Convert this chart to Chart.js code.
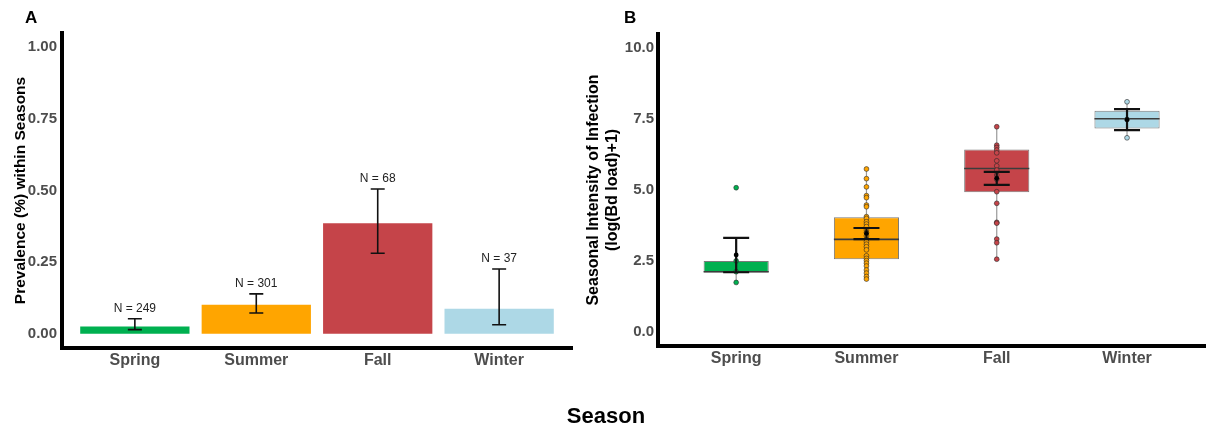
<!DOCTYPE html>
<html>
<head>
<meta charset="utf-8">
<title>Seasonal Bd prevalence and intensity</title>
<script src="https://cdn.jsdelivr.net/npm/chart.js@4.4.1/dist/chart.umd.min.js"></script>
<style>
  html, body { margin: 0; padding: 0; background: #fff; }
  #wrap { position: relative; width: 1210px; height: 427px; overflow: hidden; font-family: "Liberation Sans", Arial, sans-serif; }
  #chartA { position: absolute; left: 0; top: 0; }
  #chartB { position: absolute; left: 578px; top: 0; }
  .tag { position: absolute; top: 9px; font-weight: bold; font-size: 17px; line-height: 17px; color: #000; }
  #xTitle { position: absolute; left: 0; width: 1212px; top: 403px; text-align: center; font-weight: bold; font-size: 22px; line-height: 25px; color: #000; }
</style>
</head>
<body>
<div id="wrap">
  <canvas id="chartA" width="578" height="427"></canvas>
  <canvas id="chartB" width="632" height="427"></canvas>
  <div class="tag" style="left:25px">A</div>
  <div class="tag" style="left:624px">B</div>
  <div id="xTitle">Season</div>
</div>
<script>
// categories
const seasons = ['Spring', 'Summer', 'Fall', 'Winter'];
const seasonColors = ['#00B050', '#FFA500', '#C54449', '#ADD8E6'];

// panel A: prevalence with error bars
const prevalence = [0.025, 0.101, 0.386, 0.087];
const prevLow = [0.014, 0.072, 0.281, 0.031];
const prevHigh = [0.052, 0.139, 0.505, 0.226];
const sampleN = [249, 301, 68, 37];
const prevTicks = [0, 0.25, 0.5, 0.75, 1];

// panel B: infection intensity, box summaries
const whiskerLow = [1.74, 1.86, 2.56, 6.84];
const boxQ1 = [2.09, 2.56, 4.92, 7.17];
const boxMedian = [2.12, 3.26, 5.76, 7.51];
const boxQ3 = [2.50, 4.04, 6.43, 7.79];
const whiskerHigh = [2.50, 5.74, 7.23, 8.11];
const meanLoad = [2.71, 3.47, 5.41, 7.48];
const seLow = [2.10, 3.27, 5.18, 7.11];
const seHigh = [3.31, 3.66, 5.64, 7.85];
const loadTicks = [0, 2.5, 5, 7.5, 10];

// individual loads per season
const springLoads = [5.08, 2.50, 2.12, 1.74];
const summerLoads = [5.74, 5.40, 5.11, 4.80, 4.73, 4.47, 4.41, 4.06, 4.00, 3.88, 3.80, 3.71, 3.59, 3.50,
  3.38, 3.26, 3.18, 3.09, 3.00, 2.89, 2.68, 2.59, 2.51, 2.42, 2.32, 2.18, 2.07, 1.95, 1.86];
const fallLoads = [7.23, 6.58, 6.50, 6.41, 6.31, 6.03, 5.85, 5.70, 5.53, 5.38, 4.94, 4.53, 3.86, 3.83,
  3.27, 3.14, 2.56];
const winterLoads = [8.11, 7.49, 6.84];

Chart.defaults.font.family = '"Liberation Sans", Arial, sans-serif';
Chart.defaults.animation = false;

const tickFont = { size: 15, weight: 'bold' };
const tickColor = '#4d4d4d';

//#region Panel A - prevalence
const errorBarsA = {
    id: 'errorBarsA',
    afterDatasetsDraw(chart) {
        const { ctx, scales: { x, y } } = chart;
        ctx.save();
        seasons.forEach((s, i) => {
            const px = x.getPixelForValue(i + 1);
            const top = y.getPixelForValue(prevHigh[i]);
            const bot = y.getPixelForValue(prevLow[i]);
            ctx.strokeStyle = '#111';
            ctx.lineWidth = 1.6;
            ctx.beginPath();
            ctx.moveTo(px, top); ctx.lineTo(px, bot);
            ctx.moveTo(px - 7, top); ctx.lineTo(px + 7, top);
            ctx.moveTo(px - 7, bot); ctx.lineTo(px + 7, bot);
            ctx.stroke();
            ctx.fillStyle = '#222';
            ctx.font = '12px "Liberation Sans", Arial, sans-serif';
            ctx.textAlign = 'center';
            ctx.textBaseline = 'middle';
            ctx.fillText('N = ' + sampleN[i], px, top - 10);
        });
        ctx.restore();
    }
};

new Chart(document.getElementById('chartA').getContext('2d'), {
    type: 'bar',
    data: {
        datasets: [{
            data: seasons.map((s, i) => ({ x: i + 1, y: prevalence[i] })),
            backgroundColor: seasonColors,
            barPercentage: 0.9,
            categoryPercentage: 1.0
        }]
    },
    options: {
        responsive: false,
        devicePixelRatio: 1,
        layout: { padding: { top: 33, right: 6, left: 0, bottom: 0 } },
        plugins: { legend: { display: false }, tooltip: { enabled: false } },
        scales: {
            x: {
                type: 'linear', min: 0.4, max: 4.6, offset: false, bounds: 'data',
                afterBuildTicks: sc => { sc.ticks = seasons.map((s, i) => ({ value: i + 1 })); },
                afterFit: sc => { sc.height = 79; },
                ticks: { callback: v => seasons[v - 1], font: { size: 16, weight: 'bold' }, color: tickColor, padding: 3, autoSkip: false, maxRotation: 0 },
                grid: { display: false, drawTicks: false },
                border: { color: '#000', width: 4 }
            },
            y: {
                min: -0.05, max: 1.05, bounds: 'data',
                afterBuildTicks: sc => { sc.ticks = prevTicks.map(v => ({ value: v })); },
                afterFit: sc => { sc.width = 62; },
                ticks: { callback: v => v.toFixed(2), font: tickFont, color: tickColor, padding: 5 },
                grid: { display: false, drawTicks: false },
                border: { color: '#000', width: 4 },
                title: { display: true, text: 'Prevalence (%) within Seasons', color: '#000', font: { size: 15.5, weight: 'bold' }, padding: { top: 11, bottom: 0 } }
            }
        }
    },
    plugins: [errorBarsA]
});
//#endregion

//#region Panel B - intensity box plots
const allLoads = [springLoads, summerLoads, fallLoads, winterLoads];
const pointData = [];
allLoads.forEach((list, i) => list.forEach(v => pointData.push({ x: i + 1, y: v })));

const boxExtras = {
    id: 'boxExtras',
    afterDatasetDraw(chart, args) {
        if (args.index !== 1) return; // whiskers + median right after the boxes
        const { ctx, scales: { x, y } } = chart;
        const boxes = chart.getDatasetMeta(1).data;
        ctx.save();
        seasons.forEach((s, i) => {
            const px = x.getPixelForValue(i + 1);
            ctx.strokeStyle = '#9a9a9a';
            ctx.lineWidth = 1.2;
            ctx.beginPath();
            ctx.moveTo(px, y.getPixelForValue(whiskerLow[i])); ctx.lineTo(px, y.getPixelForValue(boxQ1[i]));
            ctx.moveTo(px, y.getPixelForValue(boxQ3[i])); ctx.lineTo(px, y.getPixelForValue(whiskerHigh[i]));
            ctx.stroke();
            const half = boxes[i].width / 2;
            const my = y.getPixelForValue(boxMedian[i]);
            ctx.strokeStyle = '#3c3c3c';
            ctx.lineWidth = 1.6;
            ctx.beginPath();
            ctx.moveTo(px - half, my); ctx.lineTo(px + half, my);
            ctx.stroke();
        });
        ctx.restore();
    },
    afterDatasetsDraw(chart) {
        const { ctx, scales: { x, y } } = chart;
        ctx.save();
        seasons.forEach((s, i) => {
            const px = x.getPixelForValue(i + 1);
            const top = y.getPixelForValue(seHigh[i]);
            const bot = y.getPixelForValue(seLow[i]);
            ctx.strokeStyle = '#111';
            ctx.lineWidth = 2.2;
            ctx.beginPath();
            ctx.moveTo(px, top); ctx.lineTo(px, bot);
            ctx.moveTo(px - 13, top); ctx.lineTo(px + 13, top);
            ctx.moveTo(px - 13, bot); ctx.lineTo(px + 13, bot);
            ctx.stroke();
            ctx.fillStyle = '#000';
            ctx.beginPath();
            ctx.arc(px, y.getPixelForValue(meanLoad[i]), 2.4, 0, Math.PI * 2);
            ctx.fill();
        });
        ctx.restore();
    }
};

new Chart(document.getElementById('chartB').getContext('2d'), {
    type: 'bar',
    data: {
        datasets: [{
            type: 'scatter',
            data: pointData,
            backgroundColor: c => seasonColors[c.raw.x - 1],
            borderColor: 'rgba(40, 40, 40, 0.75)',
            borderWidth: 0.8,
            pointRadius: 2.4,
            order: 1
        }, {
            data: seasons.map((s, i) => ({ x: i + 1, y: [boxQ1[i], boxQ3[i]] })),
            backgroundColor: seasonColors,
            borderColor: '#7a7a7a',
            borderWidth: 1,
            borderSkipped: false,
            barPercentage: 0.5,
            categoryPercentage: 1.0,
            order: 2
        }]
    },
    options: {
        responsive: false,
        devicePixelRatio: 1,
        layout: { padding: { top: 34, right: 0, left: 0, bottom: 0 } },
        plugins: { legend: { display: false }, tooltip: { enabled: false } },
        scales: {
            x: {
                type: 'linear', min: 0.4, max: 4.6, offset: false, bounds: 'data',
                afterBuildTicks: sc => { sc.ticks = seasons.map((s, i) => ({ value: i + 1 })); },
                afterFit: sc => { sc.height = 81; },
                ticks: { callback: v => seasons[v - 1], font: { size: 16, weight: 'bold' }, color: tickColor, padding: 3, autoSkip: false, maxRotation: 0 },
                grid: { display: false, drawTicks: false },
                border: { color: '#000', width: 4 }
            },
            y: {
                min: -0.5, max: 10.5, bounds: 'data',
                afterBuildTicks: sc => { sc.ticks = loadTicks.map(v => ({ value: v })); },
                afterFit: sc => { sc.width = 80; },
                ticks: { callback: v => v.toFixed(1), font: tickFont, color: tickColor, padding: 4 },
                grid: { display: false, drawTicks: false },
                border: { color: '#000', width: 4 },
                title: {
                    display: true,
                    text: ['Seasonal Intensity of Infection', '(log(Bd load)+1)'],
                    color: '#000', font: { size: 16, weight: 'bold', lineHeight: 1.2 },
                    padding: { top: 5.5, bottom: 0 }
                }
            }
        }
    },
    plugins: [boxExtras]
});
//#endregion
</script>
</body>
</html>
